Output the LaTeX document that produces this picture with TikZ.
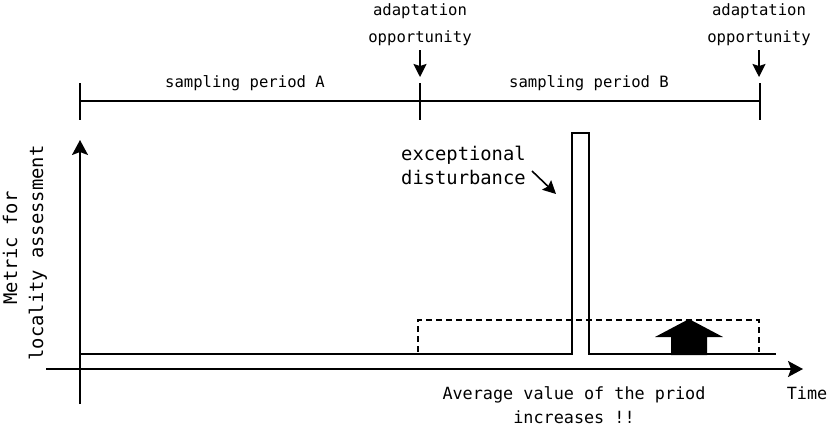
\documentclass[tikz,border=0pt]{standalone}
\usepackage{fontspec}
\setmonofont{DejaVu Sans Mono}
\usetikzlibrary{arrows.meta}
\tikzset{
  lbl/.style={inner sep=0pt, font=\ttfamily\fontsize{15.6}{18}\selectfont},
  midlbl/.style={inner sep=0pt, font=\ttfamily\fontsize{16.8}{20}\selectfont},
  biglbl/.style={inner sep=0pt, font=\ttfamily\fontsize{18.8}{22}\selectfont},
  ylbl/.style={biglbl, rotate=90, anchor=mid},
  ln/.style={line width=1.6pt},
  axis/.style={ln, -{Stealth[length=15pt, width=16pt, inset=3pt]}},
  marker/.style={ln, -{Stealth[length=13pt, width=13pt, inset=2pt]}},
  avg/.style={line width=1.4pt, dash pattern=on 6pt off 4pt},
}
\begin{document}
\begin{tikzpicture}[x=1pt, y=-1pt]
\useasboundingbox (0,0) rectangle (834,434);

% sampling periods
\coordinate (pA) at (80,101);
\coordinate (pM) at (420,101);
\coordinate (pB) at (760,101);
\draw[ln] (pA) -- (pB);
\draw[ln] (80,83) -- (80,120);
\draw[ln] (420,83) -- (420,120);
\draw[ln] (760,83) -- (760,120);
\node[lbl, anchor=mid] (sa) at (245,85) {sampling period A};
\node[lbl, anchor=mid] (sb) at (589,85) {sampling period B};

% adaptation opportunities
\node[lbl, anchor=mid] (ad1) at (420,13) {adaptation};
\node[lbl, anchor=mid] (op1) at (420,40) {opportunity};
\node[lbl, anchor=mid] (ad2) at (759,13) {adaptation};
\node[lbl, anchor=mid] (op2) at (759,40) {opportunity};
\coordinate (a1s) at (420,50);
\coordinate (a1e) at (420,77);
\coordinate (a2s) at (759,50);
\coordinate (a2e) at (759,77);
\draw[marker] (a1s) -- (a1e);
\draw[marker] (a2s) -- (a2e);

% axes
\coordinate (yb) at (80,404);
\coordinate (yt) at (80,140);
\coordinate (xl) at (46,369);
\coordinate (xr) at (803,369);
\draw[axis] (yb) -- (yt);
\draw[axis] (xl) -- (xr);
\node[ylbl] (ym) at (15,248) {Metric for};
\node[ylbl] (yl) at (41,253) {locality assessment};
\node[midlbl, anchor=mid] (tm) at (807,397) {Time};

% measured metric with a spike
\draw[ln] (80,354) -- (572,354) -- (572,133) -- (589,133) -- (589,354) -- (776,354);

% average value over period B
\draw[avg] (418,352) -- (418,320) -- (759,320) -- (759,352);
\fill (671,355) -- (671,337) -- (655,337) -- (689,319) -- (723,337) -- (707,337) -- (707,355) -- cycle;

% annotations
\node[biglbl, anchor=mid west] (ex) at (401,158) {exceptional};
\node[biglbl, anchor=mid west] (di) at (401,182) {disturbance};
\coordinate (ds) at (532,171);
\coordinate (de) at (556,194);
\draw[marker] (ds) -- (de);
\node[midlbl, anchor=mid] (av) at (574,397) {Average value of the priod};
\node[midlbl, anchor=mid] (in) at (574,421) {increases !!};
\end{tikzpicture}
\end{document}
